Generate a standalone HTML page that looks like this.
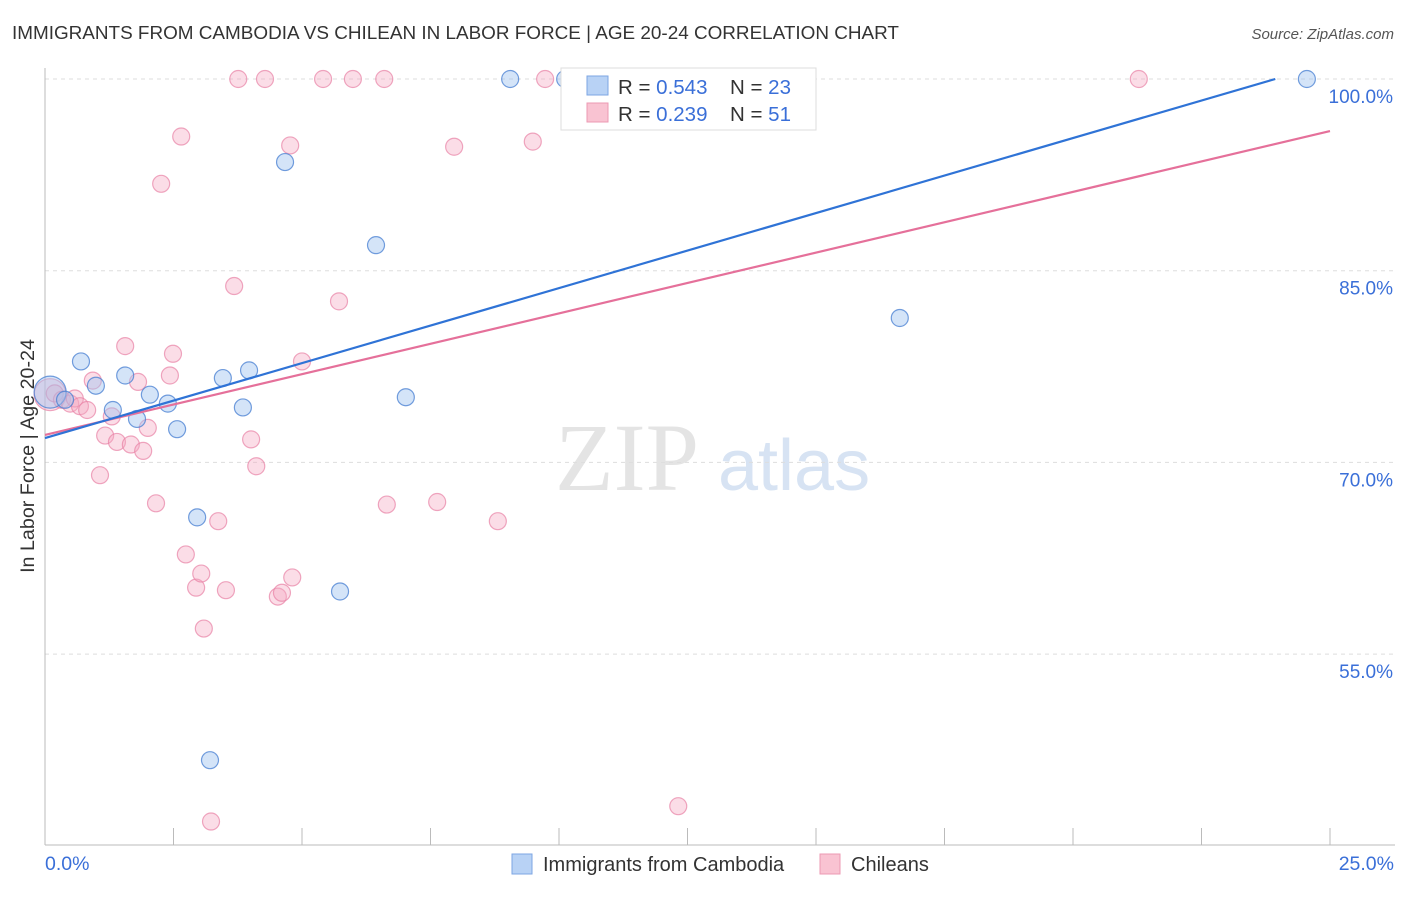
<!DOCTYPE html>
<html><head><meta charset="utf-8"><style>
body{margin:0;background:#fff;font-family:"Liberation Sans",sans-serif}
</style></head><body>
<svg id="chart" width="1406" height="892" xmlns="http://www.w3.org/2000/svg" font-family="Liberation Sans, sans-serif">
<text x="12" y="39" font-size="18.9" fill="#333">IMMIGRANTS FROM CAMBODIA VS CHILEAN IN LABOR FORCE | AGE 20-24 CORRELATION CHART</text>
<text x="1394" y="39" font-size="15" fill="#555" text-anchor="end" font-style="italic">Source: ZipAtlas.com</text>
<text transform="translate(34,456) rotate(-90)" font-size="19.7" fill="#333" text-anchor="middle">In Labor Force | Age 20-24</text>
<text x="555" y="490" font-size="96" fill="#e4e4e4" font-family="Liberation Serif, serif">ZIP</text>
<text x="718" y="490" font-size="72" fill="#d7e3f3">atlas</text>
<g id="grid"></g><g id="axes"></g><g id="pts"></g><g id="lines"></g>
<g>
<rect x="561" y="68" width="255" height="62" fill="#fff" stroke="#ddd"/>
<rect x="587" y="76" width="21" height="19" fill="#b8d2f5" stroke="#7da6e3"/>
<rect x="587" y="103" width="21" height="19" fill="#f9c3d2" stroke="#ec9ab3"/>
<text x="618" y="94" font-size="20.5" fill="#333">R = <tspan fill="#3a6fd8">0.543</tspan></text>
<text x="730" y="94" font-size="20.5" fill="#333">N = <tspan fill="#3a6fd8">23</tspan></text>
<text x="618" y="121" font-size="20.5" fill="#333">R = <tspan fill="#3a6fd8">0.239</tspan></text>
<text x="730" y="121" font-size="20.5" fill="#333">N = <tspan fill="#3a6fd8"> 51</tspan></text>
</g>
<g>
<rect x="512" y="854" width="20" height="20" fill="#b8d2f5" stroke="#7da6e3"/>
<text x="543" y="871" font-size="20" fill="#333">Immigrants from Cambodia</text>
<rect x="820" y="854" width="20" height="20" fill="#f9c3d2" stroke="#ec9ab3"/>
<text x="851" y="871" font-size="20" fill="#333">Chileans</text>
</g>
</svg>
<script>
const yTicks=[100,85,70,55];
const yTickLabels=["100.0%","85.0%","70.0%","55.0%"];
const xTickLabels=["0.0%","25.0%"];
const blueX=[0.10,0.70,0.99,1.32,1.56,1.79,2.04,2.39,2.57,2.96,3.21,3.46,3.85,3.97,4.67,5.74,6.44,7.02,9.05,10.12,16.63,24.55,0.39];
const blueY=[75.5,77.9,76.0,74.1,76.8,73.4,75.3,74.6,72.6,65.7,46.7,76.6,74.3,77.2,93.5,59.9,87.0,75.1,100,100,81.3,100,74.9];
const pinkX=[0.10,0.19,0.33,0.49,0.58,0.68,0.82,0.93,1.07,1.17,1.30,1.40,1.56,1.67,1.81,1.91,2.00,2.16,2.26,2.43,2.49,2.65,2.74,2.94,3.04,3.09,3.23,3.37,3.52,3.68,3.76,4.01,4.11,4.28,4.53,4.61,4.77,4.81,5.00,5.41,5.72,5.99,6.60,6.65,7.63,7.96,8.81,9.49,9.73,12.32,21.28];
const pinkY=[75.3,75.4,74.9,74.6,75.0,74.4,74.1,76.4,69.0,72.1,73.6,71.6,79.1,71.4,76.3,70.9,72.7,66.8,91.8,76.8,78.5,95.5,62.8,60.2,61.3,57.0,41.9,65.4,60.0,83.8,100,71.8,69.7,100,59.5,59.8,94.8,61.0,77.9,100,82.6,100,100,66.7,66.9,94.7,65.4,95.1,100,43.1,100];
const blueLine=[71.9,1.174];
const pinkLine=[72.15,0.951];
const X=v=>45+v*51.4, Y=v=>79+(100-v)*12.78;
const NS="http://www.w3.org/2000/svg";
function mk(t,a,p){const e=document.createElementNS(NS,t);for(const k in a)e.setAttribute(k,a[k]);p.appendChild(e);return e;}
const grid=document.getElementById('grid'),axes=document.getElementById('axes'),pts=document.getElementById('pts'),lines=document.getElementById('lines');
yTicks.forEach((t,i)=>{
 const l=mk('line',{x1:45,x2:1395,y1:Y(t),y2:Y(t),stroke:'#ddd','stroke-dasharray':'4,4'},grid);
 
 
 const tx=mk('text',{x:1393,y:Y(t)+24,'font-size':19,fill:'#3a6fd8','text-anchor':'end'},axes);
 tx.textContent=yTickLabels[i];
 
 
});
const ya=mk('line',{x1:45,x2:45,y1:68,y2:845,stroke:'#bbb'},axes);


const xa=mk('line',{x1:45,x2:1395,y1:845,y2:845,stroke:'#bbb'},axes);


for(let i=0;i<=10;i++){const tk=mk('line',{x1:X(i*2.5),x2:X(i*2.5),y1:828,y2:845,stroke:'#bbb'},axes);
 
 }
xTickLabels.forEach((s,i)=>{const t=mk('text',{x:i?1394:45,y:870,'font-size':19.5,fill:'#3a6fd8','text-anchor':i?'end':'start'},axes);t.textContent=s;
 
 });
pinkX.forEach((x,i)=>{const c=mk('circle',{cx:X(x),cy:Y(pinkY[i]),r:i==0?16:8.5,fill:'rgba(246,170,195,0.4)',stroke:'rgba(232,130,165,0.7)','stroke-width':1.2},pts);
 
 });
blueX.forEach((x,i)=>{const c=mk('circle',{cx:X(x),cy:Y(blueY[i]),r:i==0?16:8.5,fill:'rgba(160,195,240,0.45)',stroke:'rgba(70,125,210,0.75)','stroke-width':1.2},pts);
 
 });
function trend(p,col,name){let x2=25,y2=p[0]+p[1]*25;if(y2>100){x2=(100-p[0])/p[1];y2=100;}
 const l=mk('line',{x1:X(0),y1:Y(p[0]),x2:X(x2),y2:Y(y2),stroke:col,'stroke-width':2.2},lines);
 
 }
trend(pinkLine,'#e5709a','chilean-trend-line');
trend(blueLine,'#2f73d6','cambodia-trend-line');
</script>
</body></html>
